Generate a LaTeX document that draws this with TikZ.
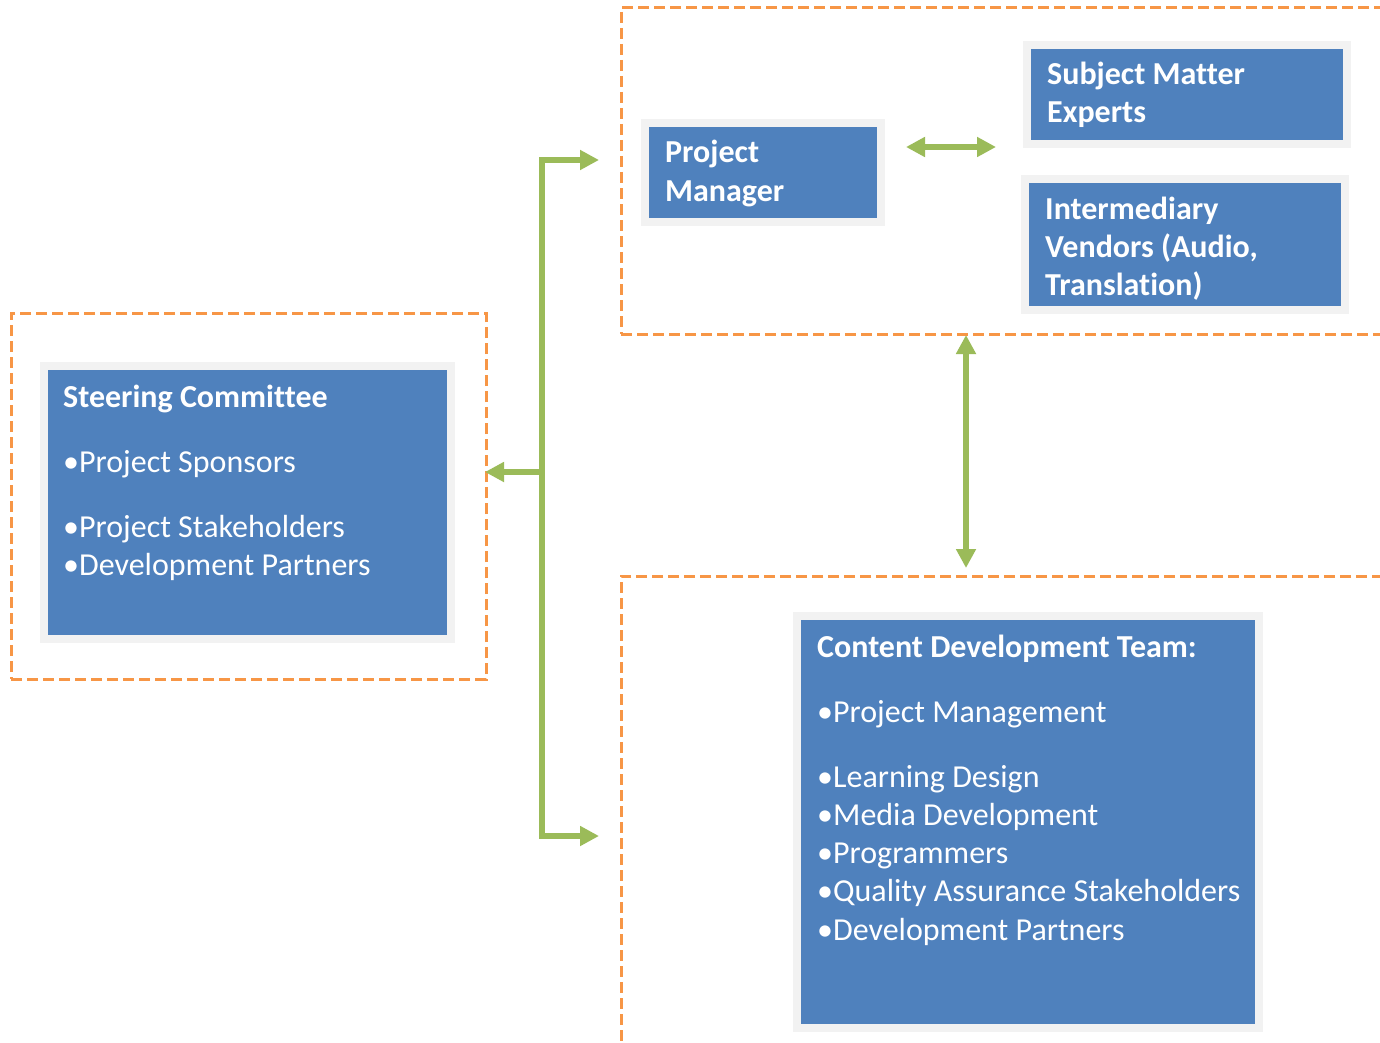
\documentclass[tikz,border=0pt]{standalone}
\usepackage{fontspec}
\setmainfont{Carlito}[Ligatures=NoCommon]
\usetikzlibrary{arrows.meta}
\definecolor{boxblue}{HTML}{4F81BD}
\definecolor{frame}{HTML}{F2F2F2}
\definecolor{dashorange}{HTML}{F79646}
\definecolor{arrowgreen}{HTML}{9BBB59}
\tikzset{
  dashbox/.style={draw=dashorange, line width=3pt, dash pattern=on 11pt off 5pt, inner sep=0pt, fill=none},
  bluebox/.style={fill=boxblue, draw=frame, line width=8pt, inner sep=0pt},
  ttl/.style={anchor=base west, inner sep=0pt, text=white, font=\fontsize{32}{38}\selectfont\bfseries},
  itm/.style={anchor=base west, inner sep=0pt, text=white, font=\fontsize{32}{38}\selectfont},
  garrow/.style={draw=arrowgreen, line width=6pt, -{Triangle[length=19pt,width=19pt]}},
  gdarrow/.style={draw=arrowgreen, line width=6pt, {Triangle[length=19pt,width=19pt]}-{Triangle[length=19pt,width=19pt]}},
}
\begin{document}
\begin{tikzpicture}[x=1pt,y=-1pt]
\useasboundingbox[fill=white] (0,0) rectangle (1380,1043);
% dashed groups
\node[dashbox, minimum width=475pt, minimum height=366pt] (leftgrp) at (248.5,496) {};
\node[dashbox, minimum width=779pt, minimum height=326pt] (topgrp) at (1010.5,171) {};
\node[dashbox, minimum width=779pt, minimum height=484pt] (botgrp) at (1010.5,818) {};
% blue boxes
\node[bluebox, minimum width=407pt, minimum height=273pt] (sc) at (247.5,502.5) {};
\node[bluebox, minimum width=236pt, minimum height=99pt] (pm) at (763,172.5) {};
\node[bluebox, minimum width=320pt, minimum height=99pt] (sme) at (1187,94.5) {};
\node[bluebox, minimum width=320pt, minimum height=131pt] (iv) at (1185,244.5) {};
\node[bluebox, minimum width=462pt, minimum height=412pt] (cdt) at (1028,822) {};
% texts
\node[ttl] (sct) at (63,407) {Steering Committee};
\node[itm] (sc1) at (63,472) {•Project Sponsors};
\node[itm] (sc2) at (63,537) {•Project Stakeholders};
\node[itm] (sc3) at (63,575) {•Development Partners};
\node[ttl] (pm1) at (665,163) {Project};
\node[ttl] (pm2) at (665,201) {Manager};
\node[ttl] (sme1) at (1047,85) {Subject Matter};
\node[ttl] (sme2) at (1047,123) {Experts};
\node[ttl] (iv1) at (1045,219) {Intermediary};
\node[ttl] (iv2) at (1045,257) {Vendors (Audio,};
\node[ttl] (iv3) at (1045,295) {Translation)};
\node[ttl] (cdtt) at (817,657) {Content Development Team:};
\node[itm] (cd1) at (817,722) {•Project Management};
\node[itm] (cd2) at (817,787) {•Learning Design};
\node[itm] (cd3) at (817,825) {•Media Development};
\node[itm] (cd4) at (817,863) {•Programmers};
\node[itm] (cd5) at (817,901) {•Quality Assurance Stakeholders};
\node[itm] (cd6) at (817,940) {•Development Partners};
% connector coordinates
\coordinate (hub) at (542,472);
\coordinate (toptip) at (599,160);
\coordinate (bottip) at (599,836);
\coordinate (lefttip) at (485,472);
\coordinate (h1) at (906,147);
\coordinate (h2) at (996,147);
\coordinate (v1) at (966,335);
\coordinate (v2) at (966,568);
% connectors
\draw[garrow] (hub) |- (toptip);
\draw[garrow] (hub) |- (bottip);
\draw[garrow] (hub) -- (lefttip);
\draw[gdarrow] (h1) -- (h2);
\draw[gdarrow] (v1) -- (v2);
\end{tikzpicture}
\end{document}
